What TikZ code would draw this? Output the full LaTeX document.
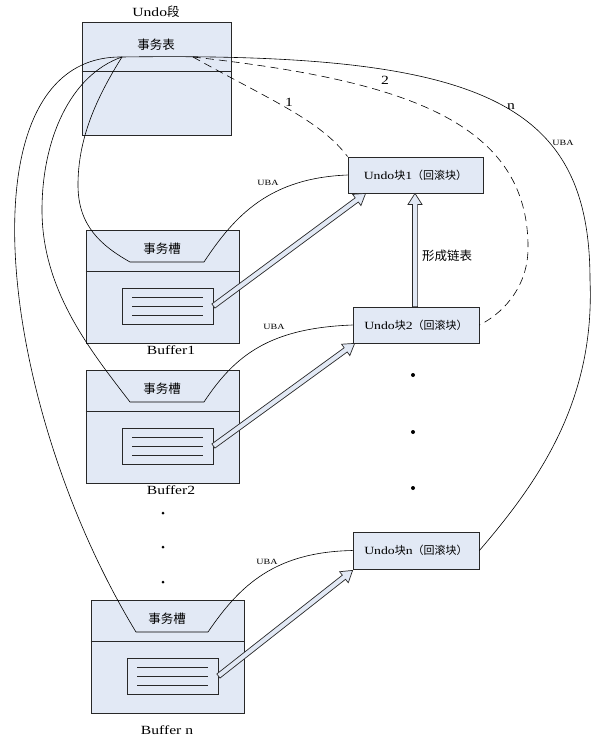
\documentclass[tikz,border=0pt]{standalone}
\usepackage{fontspec}
\setmainfont[FakeStretch=1.25]{Liberation Serif}
\newfontfamily\cjk{Noto Sans CJK SC}
\usetikzlibrary{calc}
\definecolor{lb}{RGB}{226,233,245}
\definecolor{ln}{RGB}{40,40,40}
\tikzset{
  box/.style={draw=ln, fill=lb, line width=0.8pt, inner sep=0pt},
  ublock/.style={box, minimum height=36pt, font=\fontsize{11}{12}\selectfont},
  lbl/.style={font=\fontsize{12.5}{14}\selectfont, inner sep=0pt},
  uba/.style={font=\fontsize{8}{9}\selectfont, inner sep=0pt},
  conn/.style={draw=black, line width=0.6pt},
  dsh/.style={conn, dash pattern=on 8pt off 5pt},
  harr/.style={draw=ln, fill=lb, line width=0.7pt, line join=miter},
  dotn/.style={circle, fill=black, inner sep=0pt, minimum size=4pt}
}
\newcommand\hollowarr[2]{%
  \draw[harr] let \p1=(#1), \p2=(#2), \n1={atan2(\y2-\y1,\x2-\x1)}, \n2={veclen(\x2-\x1,\y2-\y1)} in
   [shift={(\p1)}, rotate=\n1] (0,-2.6) -- (\n2-11,-2.6) -- (\n2-11,-7) -- (\n2,0) -- (\n2-11,7) -- (\n2-11,2.6) -- (0,2.6) -- cycle;}
\begin{document}
\begin{tikzpicture}[x=1pt,y=-1pt]
\useasboundingbox (0,0) rectangle (599,744);
% Undo segment
\node[lbl] (segt) at (156,12) {Undo{\cjk 段}};
\node[box, minimum width=149pt, minimum height=113pt] (seg) at (156.5,78.5) {};
\draw[ln, line width=0.8pt] (seg.west |- 0,71) coordinate (segdl) -- (seg.east |- 0,71) coordinate (segdr);
\node[lbl] (swb) at (156,45) {\cjk 事务表};
\coordinate (hub) at (122,57);
\coordinate (dhub) at (193,57);

% Undo blocks
\node[ublock, minimum width=135pt] (u1) at (415.5,175) {Undo{\cjk 块}1{\cjk （回滚块）}};
\node[ublock, minimum width=126pt] (u2) at (416,325) {Undo{\cjk 块}2{\cjk （回滚块）}};
\node[ublock, minimum width=126pt, minimum height=37pt] (un) at (416,550.5) {Undo{\cjk 块}n{\cjk （回滚块）}};

% Buffers
\foreach \n/\cx/\cy in {1/162.5/286.5, 2/162.5/426.5, n/167.5/656.5}{
  \node[box, minimum width=153pt, minimum height=113pt] (b\n) at (\cx,\cy) {};
  \draw[ln, line width=0.8pt] ([yshift=15.5pt]b\n.west) -- ([yshift=15.5pt]b\n.east);
  \node[lbl] (bs\n) at (\cx-0.5,\cy-38) {\cjk 事务槽};
  \node[box, minimum width=91pt, minimum height=36pt] (i\n) at (\cx+5,\cy+19.5) {};
  \foreach \dy in {-9,0,9}{
    \draw[ln, line width=0.7pt] ([xshift=-35.5pt,yshift=-\dy pt]i\n.center) -- ([xshift=35.5pt,yshift=-\dy pt]i\n.center);
  }
}
\node[lbl] (bl1) at (171,350) {Buffer1};
\node[lbl] (bl2) at (171,490) {Buffer2};
\node[lbl] (bln) at (167,730) {Buffer n};

% trapezoid corners
\coordinate (t1l) at (130,262); \coordinate (t1r) at (204,262);
\coordinate (t2l) at (130,402); \coordinate (t2r) at (204,402);
\coordinate (tnl) at (136,632); \coordinate (tnr) at (208,632);
\coordinate (m1) at (78,185);
\coordinate (m2) at (42,210);

% curves from the hub through the slots to the undo blocks
\draw[conn] (hub) .. controls (95,100) and (78,140) .. (m1)
  .. controls (78,225) and (100,245) .. (t1l) -- (t1r)
  .. controls (235,215) and (270,178) .. (u1.west);
\draw[conn] (hub) .. controls (70,75) and (42,140) .. (m2)
  .. controls (42,290) and (90,350) .. (t2l) -- (t2r)
  .. controls (235,355) and (270,328) .. (u2.west);
\draw[conn] (hub) .. controls (-40,55) and (-5,400) .. (tnl) -- (tnr)
  .. controls (240,585) and (275,552) .. (un.west);
\node[uba] (uba1) at (268,183) {UBA};
\node[uba] (uba2) at (274,327) {UBA};
\node[uba] (uban) at (267,562) {UBA};

% big curve n
\coordinate (nmid) at (590,280);
\draw[conn] (hub) .. controls (480,52) and (590,100) .. (nmid)
  .. controls (595,400) and (540,480) .. (un.east);
\node[lbl] (ln) at (511,107) {n};
\node[uba] (uban2) at (563,143) {UBA};

% dashed
\draw[dsh] (dhub) .. controls (270,100) and (320,120) .. (u1.north west);
\coordinate (dmid) at (528,250);
\draw[dsh] (dhub) .. controls (400,80) and (530,120) .. (dmid)
  .. controls (527,290) and (500,315) .. (u2.east);
\node[lbl] (l1) at (289,102) {1};
\node[lbl] (l2) at (385,80) {2};

% hollow arrows
\coordinate (a1) at ([xshift=18pt]u1.south west);
\coordinate (a2) at ([xshift=2pt]u2.south west);
\coordinate (an) at ([yshift=-1pt]un.south west);
\hollowarr{i1.east}{a1}
\hollowarr{i2.east}{a2}
\hollowarr{in.east}{an}
\coordinate (c2) at (u2.north -| 415,0);
\coordinate (c1) at (u1.south -| 415,0);
\hollowarr{c2}{c1}
\node[lbl, anchor=west] (chain) at (422,256) {\cjk 形成链表};

% dots
\node[dotn] (d1) at (413,375) {};
\node[dotn] (d2) at (413,432) {};
\node[dotn] (d3) at (413,488) {};
\node[dotn, minimum size=3pt] (e1) at (163,513) {};
\node[dotn, minimum size=3pt] (e2) at (163,547) {};
\node[dotn, minimum size=3pt] (e3) at (163,582) {};
\end{tikzpicture}
\end{document}
